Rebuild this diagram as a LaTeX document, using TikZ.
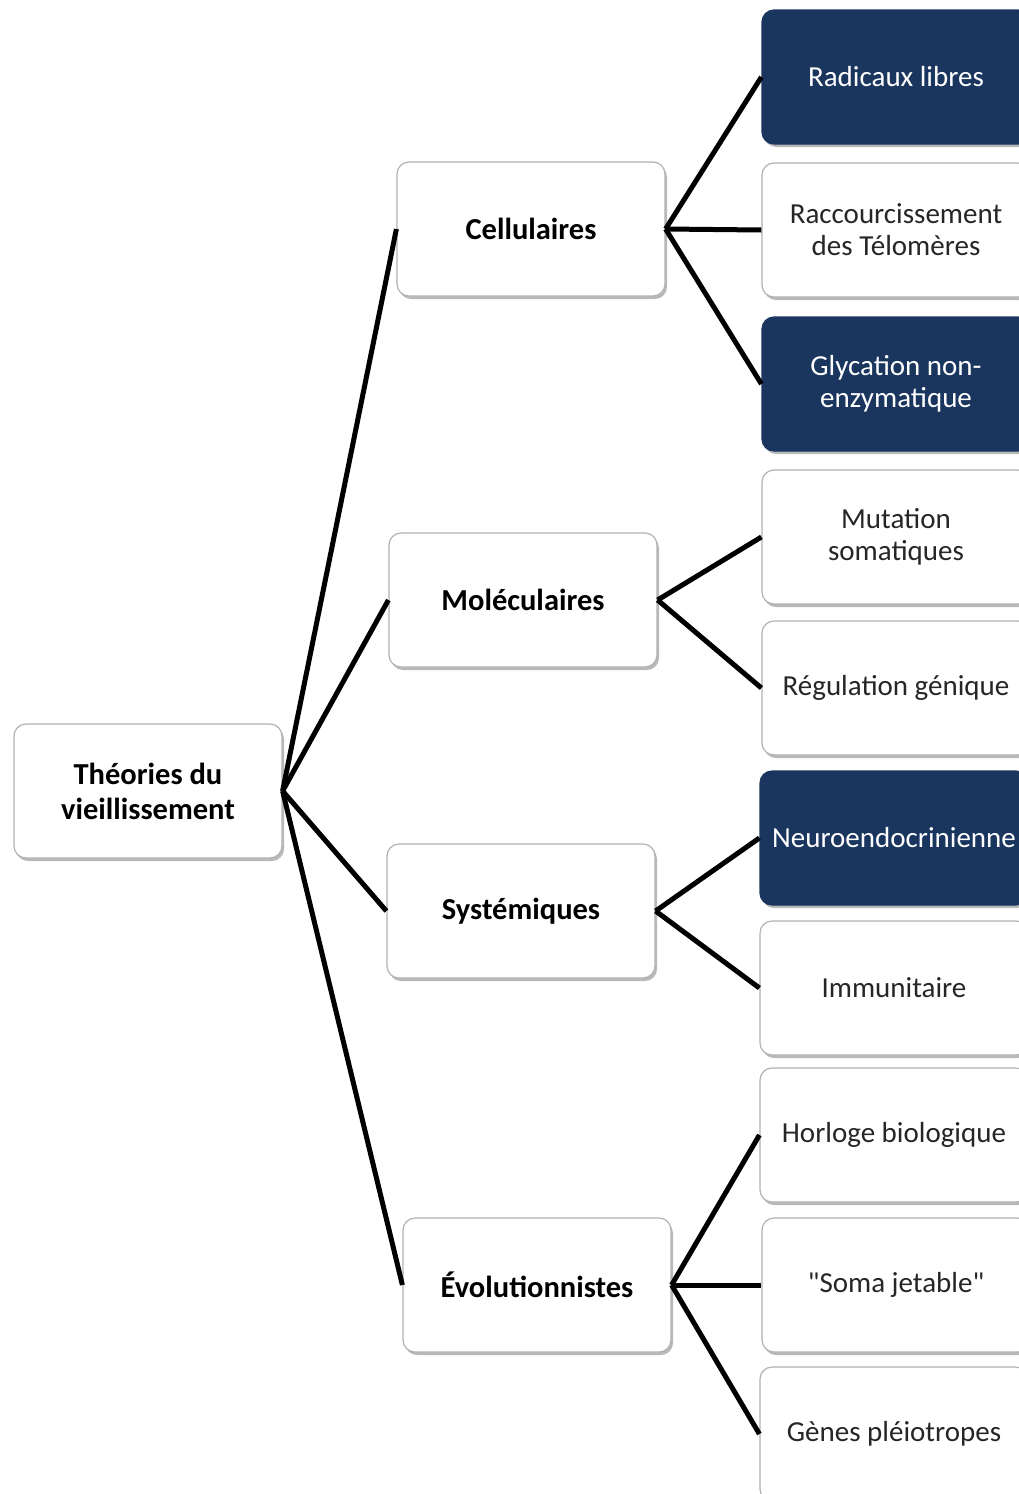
\documentclass[tikz,border=0pt]{standalone}
\usepackage{fontspec}
\setmainfont{Carlito}
\usetikzlibrary{shadows}

\definecolor{navy}{RGB}{26,54,94}
\tikzset{
  box/.style={draw=gray!60, line width=1.2pt, rounded corners=12pt, minimum width=268pt, minimum height=134pt, align=center, fill=white, drop shadow={shadow xshift=2pt, shadow yshift=-3pt, fill=gray!55, opacity=1}},
  mainbox/.style={box, font=\bfseries\fontsize{30.5}{35}\selectfont},
  leaf/.style={box, text=black!85, font=\fontsize{29}{32}\selectfont},
  darkleaf/.style={leaf, fill=navy, draw=navy, text=white},
  link/.style={line width=5pt, black},
}

\begin{document}
\begin{tikzpicture}[x=1pt,y=-1pt]
  \useasboundingbox (0,0) rectangle (1019,1494);
  \clip (0,0) rectangle (1019,1494);
  \node [mainbox] (root) at (148,791) {Théories du\\vieillissement};
  \node [mainbox] (cell) at (531,229) {Cellulaires};
  \node [mainbox] (mol) at (523,600) {Moléculaires};
  \node [mainbox] (sys) at (521,911) {Systémiques};
  \node [mainbox] (evo) at (537,1285) {Évolutionnistes};
  \node [darkleaf] (rad) at (896,77) {Radicaux libres};
  \node [leaf] (telo) at (896,230) {Raccourcissement\\des Télomères};
  \node [darkleaf] (glyc) at (896,384) {Glycation non-\\enzymatique};
  \node [leaf] (mut) at (896,537) {Mutation\\somatiques};
  \node [leaf] (reg) at (896,688) {Régulation génique};
  \node [darkleaf] (neuro) at (894,838) {Neuroendocrinienne};
  \node [leaf] (immu) at (894,988) {Immunitaire};
  \node [leaf] (horl) at (894,1135) {Horloge biologique};
  \node [leaf] (soma) at (896,1285) {\textquotedbl Soma jetable\textquotedbl};
  \node [leaf] (genes) at (894,1434) {Gènes pléiotropes};
  \foreach \a/\b in {root/cell,root/mol,root/sys,root/evo,cell/rad,cell/telo,cell/glyc,mol/mut,mol/reg,sys/neuro,sys/immu,evo/horl,evo/soma,evo/genes}
    \draw [link] (\a.east) -- (\b.west);
\end{tikzpicture}
\end{document}
